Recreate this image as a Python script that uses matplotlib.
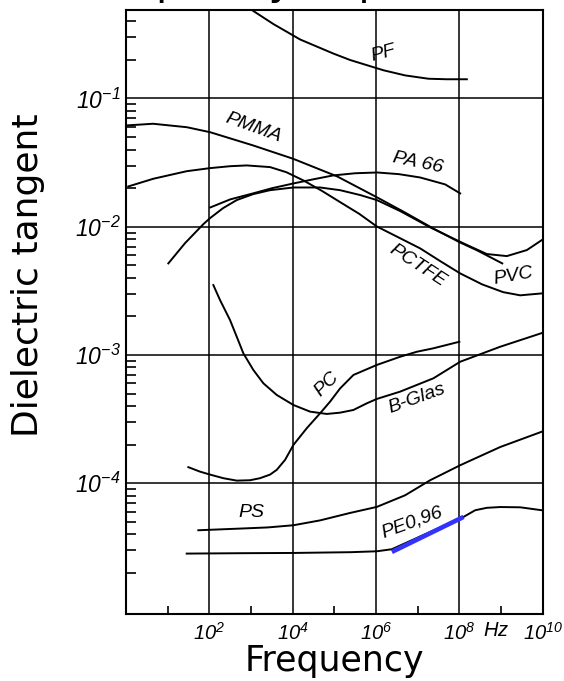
import numpy as np
import matplotlib
matplotlib.use('Agg')
import matplotlib.pyplot as plt
from matplotlib.ticker import FixedLocator, LogLocator, NullFormatter

plt.rcParams['mathtext.fontset'] = 'custom'
plt.rcParams['mathtext.rm'] = 'Liberation Sans:italic'
plt.rcParams['mathtext.it'] = 'Liberation Sans:italic'

# curves: log10(frequency / Hz) and log10(tan delta)
pf_f = [2.90, 3.02, 3.54, 4.18, 4.98, 5.38, 6.18, 6.70, 7.26, 7.70, 8.18]
pf_t = [-0.24, -0.31, -0.42, -0.54, -0.65, -0.70, -0.78, -0.82, -0.846, -0.85, -0.85]

pmma_f = [0.02, 0.65, 1.46, 2.02, 3.05, 4.01, 5.07, 6.03, 6.70, 7.37, 8.00, 8.43, 9.03]
pmma_t = [-1.21, -1.197, -1.224, -1.263, -1.366, -1.47, -1.608, -1.772, -1.89, -2.013, -2.12, -2.185, -2.286]

pa66_f = [2.02, 2.50, 3.05, 3.50, 4.01, 4.50, 4.97, 5.50, 6.03, 6.55, 7.06, 7.66, 8.02]
pa66_t = [-1.85, -1.787, -1.74, -1.70, -1.663, -1.63, -1.60, -1.583, -1.577, -1.59, -1.616, -1.67, -1.74]

pctfe_f = [0.055, 0.655, 1.457, 2.017, 2.50, 2.898, 3.457, 3.85, 4.257, 4.70, 5.138, 5.60, 6.019, 6.55,
           7.06, 7.55, 8.02, 8.55, 9.05, 9.46, 9.98]
pctfe_t = [-1.686, -1.626, -1.567, -1.543, -1.528, -1.522, -1.535, -1.575, -1.639, -1.72, -1.808, -1.90,
           -1.998, -2.085, -2.169, -2.27, -2.364, -2.45, -2.51, -2.535, -2.52]

pvc_f = [1.016, 1.417, 1.856, 2.017, 2.33, 2.658, 3.05, 3.457, 4.017, 4.658, 5.138, 5.62, 6.019, 6.58,
         7.30, 8.10, 8.66, 9.14, 9.62, 9.98]
pvc_t = [-2.286, -2.128, -1.98, -1.933, -1.855, -1.792, -1.746, -1.715, -1.694, -1.694, -1.715, -1.753,
         -1.792, -1.878, -2.005, -2.13, -2.213, -2.229, -2.182, -2.104]

pc_f = [1.496, 1.777, 2.017, 2.336, 2.658, 2.977, 3.217, 3.457, 3.618, 3.818, 4.017, 4.339, 4.658,
        4.898, 5.138, 5.458, 6.019, 6.579, 6.98, 7.378, 8.00]
pc_t = [-3.875, -3.910, -3.933, -3.961, -3.980, -3.977, -3.961, -3.933, -3.896, -3.818, -3.702, -3.571,
        -3.455, -3.364, -3.261, -3.156, -3.078, -3.014, -2.975, -2.948, -2.897]

bglas_f = [2.096, 2.257, 2.497, 2.658, 2.816, 3.056, 3.297, 3.618, 4.017, 4.418, 4.818, 5.138, 5.458,
           5.78, 6.019, 6.579, 7.378, 8.02, 8.98, 10.0]
bglas_t = [-2.455, -2.572, -2.728, -2.858, -2.987, -3.117, -3.221, -3.312, -3.390, -3.442, -3.460, -3.450,
           -3.429, -3.377, -3.343, -3.286, -3.182, -3.053, -2.936, -2.827]

ps_f = [1.736, 2.737, 3.40, 4.017, 4.658, 5.378, 6.019, 6.70, 7.299, 8.02, 8.98, 10.0]
ps_t = [-4.367, -4.354, -4.345, -4.328, -4.29, -4.232, -4.185, -4.094, -3.977, -3.860, -3.718, -3.596]

pe_f = [1.457, 2.737, 4.017, 5.40, 6.019, 6.38, 8.10, 8.38, 8.66, 8.98, 9.46, 9.98]
pe_t = [-4.549, -4.546, -4.544, -4.538, -4.531, -4.515, -4.263, -4.211, -4.192, -4.186, -4.188, -4.211]

# highlighted part of PE 0,96
pe_hi_f = [6.38, 8.10]
pe_hi_t = [-4.536, -4.263]

# curve labels: text, log f, log tan, rotation
labels = [
    ('PF', 6.17, -0.65, 15),
    ('PMMA', 3.05, -1.226, -20),
    ('PA 66', 7.01, -1.50, -12),
    ('PCTFE', 6.99, -2.30, -33),
    ('PVC', 9.29, -2.387, 10),
    ('PC', 4.83, -3.229, 45),
    ('B-Glas', 6.99, -3.338, 20),
    ('PS', 3.0, -4.227, 0),
    ('PE0,96', 6.87, -4.305, 20),
]

curves = [(pf_f, pf_t), (pmma_f, pmma_t), (pa66_f, pa66_t), (pctfe_f, pctfe_t),
          (pvc_f, pvc_t), (pc_f, pc_t), (bglas_f, bglas_t), (ps_f, ps_t), (pe_f, pe_t)]

fig = plt.figure(figsize=(5.64, 6.81), dpi=100)
ax = fig.add_axes([0.2234, 0.0984, 0.7388, 0.8869])

for f, t in curves:
    ax.plot(10 ** np.array(f), 10 ** np.array(t), color='black', lw=1.4)
ax.plot(10 ** np.array(pe_hi_f), 10 ** np.array(pe_hi_t), color='#3333ff', lw=3.3,
        solid_capstyle='butt', zorder=5)

for txt, lf, lt, rot in labels:
    ax.text(10 ** lf, 10 ** lt, txt, ha='center', va='center', rotation=rot,
            fontsize=14, style='italic', family='Liberation Sans')

ax.set_xscale('log')
ax.set_yscale('log')
ax.set_xlim(1, 1e10)
ax.set_ylim(10 ** -5.02, 10 ** -0.31)

ax.set_xticks([1e2, 1e4, 1e6, 1e8, 1e10],
              [r'$10^{2}$', r'$10^{4}$', r'$10^{6}$', r'$10^{8}$', r'$10^{10}$'])
ax.xaxis.set_minor_locator(FixedLocator([1e1, 1e3, 1e5, 1e7, 1e9]))
ax.xaxis.set_minor_formatter(NullFormatter())
ax.set_yticks([1e-4, 1e-3, 1e-2, 1e-1],
              [r'$10^{-4}$', r'$10^{-3}$', r'$10^{-2}$', r'$10^{-1}$'])
ax.yaxis.set_minor_locator(LogLocator(base=10, subs=np.arange(2, 10)))
ax.yaxis.set_minor_formatter(NullFormatter())

ax.tick_params(axis='x', which='major', length=0, pad=6, labelsize=14.5)
ax.tick_params(axis='x', which='minor', direction='in', length=6, width=1.2)
ax.tick_params(axis='y', which='major', length=0, pad=4, labelsize=16.5)
ax.tick_params(axis='y', which='minor', direction='in', length=7, width=1.2)
ax.grid(which='major', color='black', lw=1.1)
for sp in ax.spines.values():
    sp.set_linewidth(1.5)

ax.text(10 ** 8.88, -0.012, r'$Hz$', transform=ax.get_xaxis_transform(),
        ha='center', va='top', fontsize=14.5)

ax.set_xlabel('Frequency', fontsize=25, family='DejaVu Sans')
ax.set_ylabel('Dielectric tangent', fontsize=26, family='DejaVu Sans')
ax.xaxis.set_label_coords(0.5, -0.05)
ax.yaxis.set_label_coords(-0.194, 0.561)

fig.text(78 / 564, 1 + 6 / 681, 'Frequency dependence', ha='left', va='baseline',
         fontsize=30, family='DejaVu Sans')

fig.savefig('out.png', dpi=100)
